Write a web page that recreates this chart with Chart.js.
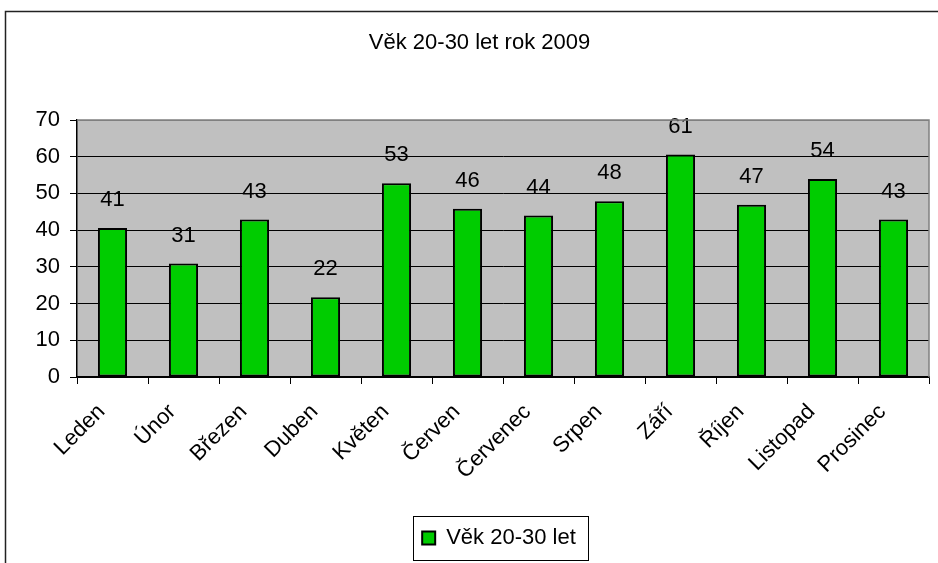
<!DOCTYPE html>
<html>
<head>
<meta charset="utf-8">
<script src="https://cdn.jsdelivr.net/npm/chart.js@4"></script>
<style>
  html, body { margin: 0; padding: 0; background: #fff; }
  #wrap { width: 938px; height: 563px; position: relative; }
</style>
</head>
<body>
<div id="wrap"><canvas id="vek"></canvas></div>
<script>
// data
var mesice = ['Leden', 'Únor', 'Březen', 'Duben', 'Květen', 'Červen', 'Červenec', 'Srpen', 'Září', 'Říjen', 'Listopad', 'Prosinec'];
var pocty = [40.6, 30.9, 42.9, 21.7, 52.8, 45.8, 44.0, 47.9, 60.6, 46.9, 53.9, 42.9];
var osaY = [0, 10, 20, 30, 40, 50, 60, 70];

Chart.defaults.font.family = '"Liberation Sans", Arial, sans-serif';
Chart.defaults.color = '#000';

// sede pozadi grafu, ramecky, posun titulku a legendy
var pozadi = {
    id: 'pozadi',
    afterLayout: function (chart) {
        var t = chart.titleBlock, l = chart.legend;
        t.left += 15; t.right += 15;
        l.left += 34.5; l.right += 34.5;
    },
    beforeDraw: function (chart) {
        var ctx = chart.ctx, a = chart.chartArea;
        ctx.save();
        ctx.fillStyle = '#fff';
        ctx.fillRect(0, 0, chart.width, chart.height);
        ctx.strokeStyle = '#222';
        ctx.lineWidth = 1.5;
        ctx.strokeRect(5.5, 11.5, 2000, 2000);
        ctx.fillStyle = '#c0c0c0';
        ctx.fillRect(a.left, a.top, a.right - a.left, a.bottom - a.top);
        ctx.restore();
    },
    afterDraw: function (chart) {
        var ctx = chart.ctx, a = chart.chartArea;
        ctx.save();
        ctx.strokeStyle = '#808080';
        ctx.lineWidth = 1.5;
        ctx.beginPath();
        ctx.moveTo(a.left, a.top);
        ctx.lineTo(a.right, a.top);
        ctx.lineTo(a.right, a.bottom);
        ctx.stroke();
        // ramecek legendy
        var hb = chart.legend.legendHitBoxes[0];
        if (hb) {
            var cy = hb.top + hb.height / 2;
            ctx.strokeStyle = '#000';
            ctx.lineWidth = 1;
            ctx.strokeRect(Math.round(hb.left - 9) + 0.5, Math.round(cy - 22) + 0.5, Math.round(hb.width + 21), 44);
        }
        ctx.restore();
    }
};

// popisky hodnot nad sloupci
var popisky = {
    id: 'popisky',
    afterDatasetsDraw: function (chart) {
        var ctx = chart.ctx;
        var meta = chart.getDatasetMeta(0);
        ctx.save();
        ctx.font = '22px "Liberation Sans", Arial, sans-serif';
        ctx.fillStyle = '#000';
        ctx.textAlign = 'center';
        ctx.textBaseline = 'middle';
        meta.data.forEach(function (bar, i) {
            ctx.fillText(Math.round(pocty[i]), bar.x, bar.y - 28);
        });
        ctx.restore();
    }
};

var ctx = document.getElementById('vek').getContext('2d');
var graf = new Chart(ctx, {
    type: 'bar',
    data: {
        labels: mesice,
        datasets: [{
            label: 'Věk 20-30 let',
            data: pocty,
            backgroundColor: '#00cc00',
            borderColor: '#000',
            borderWidth: 2,
            borderSkipped: false,
            categoryPercentage: 1,
            barPercentage: 0.41
        }]
    },
    options: {
        responsive: true,
        maintainAspectRatio: false,
        animation: false,
        layout: { padding: { top: 14, left: 0, right: 9, bottom: 4 } },
        plugins: {
            title: {
                display: true,
                text: 'Věk 20-30 let rok 2009',
                color: '#000',
                font: { size: 22, weight: 'normal' },
                padding: { top: 16, bottom: 63.6 }
            },
            legend: {
                position: 'bottom',
                labels: {
                    color: '#000',
                    font: { size: 22 },
                    boxWidth: 13,
                    boxHeight: 13,
                    padding: 10
                }
            },
            tooltip: { enabled: false }
        },
        scales: {
            x: {
                grid: { offset: true, drawOnChartArea: false, color: '#000', tickLength: 7 },
                border: { color: '#000', width: 1.5 },
                ticks: { font: { size: 22 }, color: '#000', minRotation: 45, maxRotation: 45, autoSkip: false, padding: 15, labelOffset: -11 },
                afterFit: function (s) { s.height = 140; }
            },
            y: {
                min: 0,
                max: 70,
                afterBuildTicks: function (s) { s.ticks = osaY.map(function (v) { return { value: v }; }); },
                grid: {
                    color: function (c) { return c.tick && c.tick.value === 70 ? '#808080' : '#000'; },
                    tickColor: '#000',
                    tickLength: 7
                },
                border: { color: '#000', width: 1.5 },
                ticks: { font: { size: 22 }, color: '#000', padding: 10 },
                afterFit: function (s) { s.width = 77; }
            }
        }
    },
    plugins: [pozadi, popisky]
});
</script>
</body>
</html>
